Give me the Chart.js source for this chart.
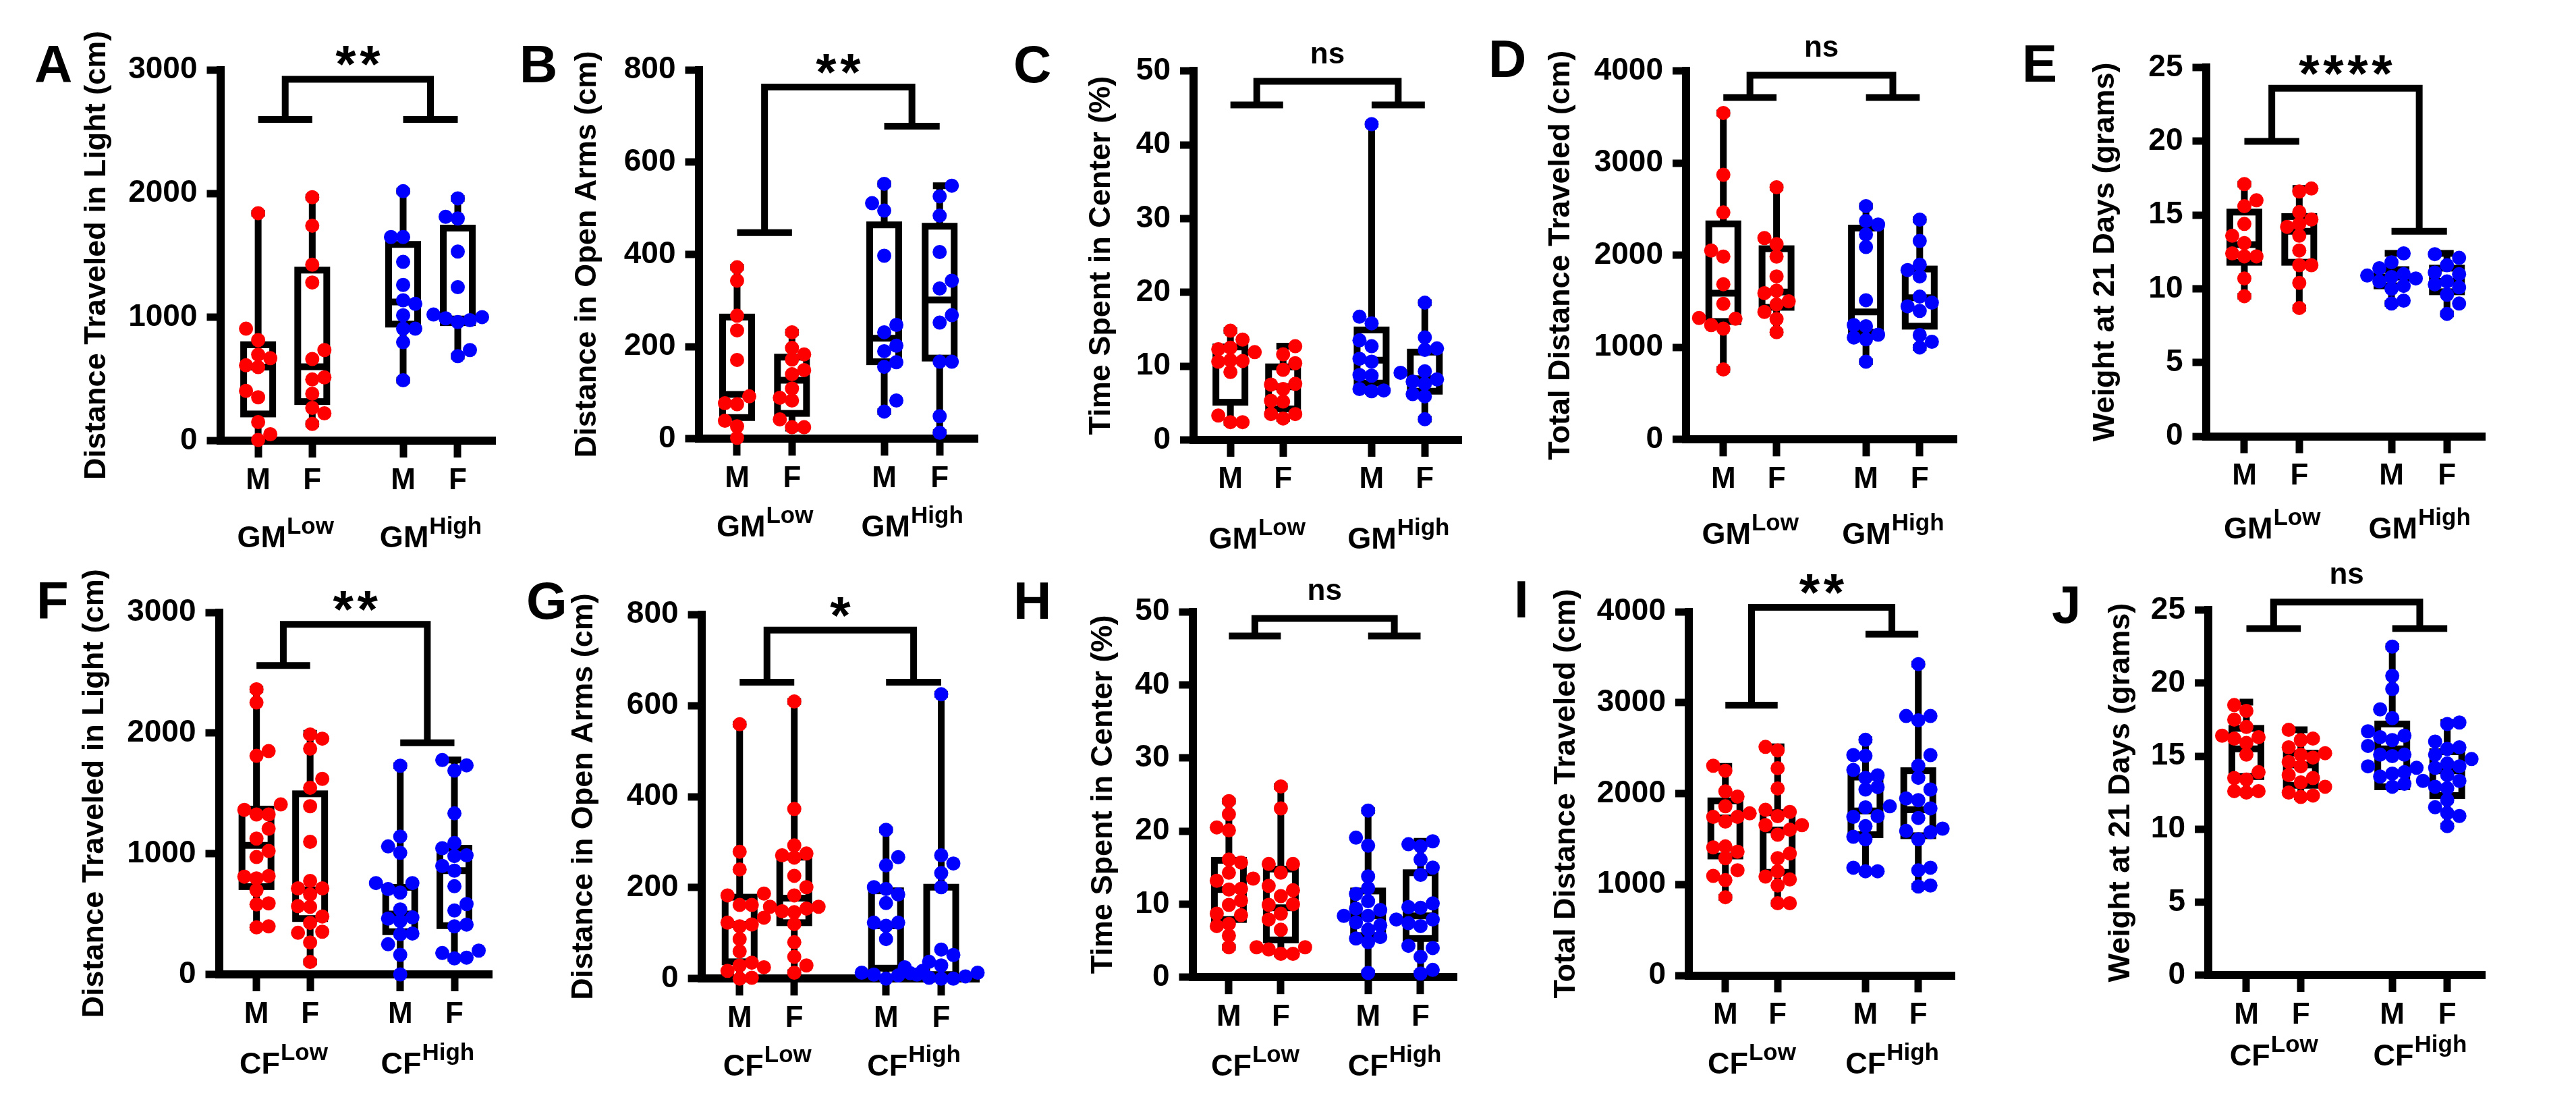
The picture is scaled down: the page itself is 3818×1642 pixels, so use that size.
<!DOCTYPE html>
<html>
<head>
<meta charset="utf-8">
<title>Behaviour and weight by group</title>
<script src="https://cdn.jsdelivr.net/npm/chart.js@4.4.1/dist/chart.umd.min.js"></script>
<style>
  html, body { margin: 0; padding: 0; background: #fff; }
  body { width: 3818px; height: 1642px; position: relative; overflow: hidden; }
  canvas { position: absolute; }
</style>
</head>
<body>
<script>
// groups are: M Low, F Low, M High, F High
const SEX = ['M', 'F', 'M', 'F'];
const LEVELS = ['Low', 'High'];
const CAT_X = [1, 2, 3.68, 4.69];

// points, one array per group
const lightGM = [
    [1841, 906, 814, 696, 667, 610, 595, 403, 351, 150, 52, 6],
    [1970, 1740, 1424, 1280, 733, 661, 512, 495, 380, 265, 221, 135],
    [2019, 1648, 1648, 1447, 1260, 1136, 1107, 1015, 906, 906, 797, 489],
    [1961, 1812, 1798, 1530, 1242, 1021, 1000, 990, 975, 960, 733, 684],
];
const openGM = [
    [372, 343, 267, 235, 171, 92, 77, 75, 39, 27, 2],
    [231, 197, 183, 172, 149, 140, 109, 89, 83, 42, 25, 25],
    [553, 511, 495, 397, 247, 231, 202, 190, 166, 156, 83, 59],
    [549, 526, 484, 405, 343, 326, 268, 252, 167, 167, 49, 13],
];
const centerGM = [
    [14.8, 13.6, 12.5, 12.3, 11.9, 10.8, 10.7, 10.6, 9.2, 3.3, 2.4, 2.4],
    [12.7, 11.6, 10.4, 9.5, 7.6, 7.5, 6.9, 5.3, 5.2, 3.5, 3.5, 2.9],
    [42.8, 16.7, 15.8, 13.5, 12.7, 11.0, 10.6, 8.8, 8.7, 6.9, 6.7, 6.6],
    [18.6, 13.9, 12.4, 12.2, 9.3, 9.1, 8.2, 7.9, 7.6, 6.2, 5.9, 2.8],
];
const totalGM = [
    [3545, 2874, 2465, 2052, 1986, 1686, 1473, 1319, 1311, 1242, 1203, 760],
    [2738, 2187, 2121, 1986, 1770, 1616, 1589, 1500, 1466, 1385, 1308, 1165],
    [2534, 2372, 2334, 2226, 2090, 1512, 1242, 1230, 1138, 1107, 1088, 845],
    [2387, 2156, 1898, 1840, 1770, 1551, 1485, 1446, 1396, 1134, 1061, 999],
];
const weightGM = [
    [17.1, 16.0, 15.6, 14.4, 13.6, 13.1, 12.4, 12.2, 12.2, 10.7, 9.5],
    [16.8, 16.6, 15.2, 14.7, 14.4, 14.2, 13.6, 12.6, 11.6, 11.6, 10.4, 8.7],
    [12.4, 11.8, 11.4, 11.0, 10.9, 10.8, 10.7, 10.5, 10.2, 10.0, 9.2, 9.0],
    [12.35, 12.1, 11.6, 11.1, 11.0, 10.5, 10.3, 10.1, 9.6, 9.0, 8.3],
];
const lightCF = [
    [2364, 2254, 1851, 1812, 1409, 1364, 1326, 1326, 1208, 1126, 1023, 973, 816, 810, 796, 698, 589, 580, 398, 390],
    [1989, 1954, 1871, 1621, 1547, 1394, 1099, 775, 713, 713, 663, 566, 560, 480, 427, 354, 345, 265, 103],
    [1730, 1143, 1061, 1008, 757, 757, 707, 678, 539, 472, 463, 442, 339, 333, 250, 162, 0],
    [1777, 1733, 1689, 1335, 1090, 1046, 987, 981, 899, 860, 731, 583, 530, 413, 398, 197, 177, 139, 133],
];
const openCF = [
    [559, 279, 240, 187, 183, 162, 162, 134, 123, 119, 115, 87, 60, 35, 29, 25, 17, 2, 0],
    [609, 373, 293, 275, 271, 266, 226, 201, 183, 158, 158, 154, 148, 146, 120, 80, 48, 29, 13],
    [327, 267, 249, 201, 197, 185, 166, 123, 123, 116, 87, 17, 13, 12, 9, 7, 0],
    [625, 271, 253, 232, 201, 64, 52, 37, 29, 25, 13, 9, 5, 2, 0, 0],
];
const centerCF = [
    [24.1, 22.3, 20.5, 20.1, 16.1, 15.7, 14.3, 13.5, 13.2, 12.1, 12.0, 10.5, 9.9, 8.7, 8.5, 7.3, 7.0, 5.7, 4.1],
    [26.1, 23.1, 15.5, 15.5, 14.3, 12.5, 11.9, 11.1, 10.0, 9.9, 8.7, 7.9, 6.5, 4.1, 4.1, 3.8, 3.2, 3.2],
    [22.8, 19.1, 18.0, 13.8, 12.2, 11.4, 10.4, 9.4, 9.2, 8.4, 8.4, 7.5, 7.1, 6.5, 5.5, 5.3, 4.8, 0.6],
    [18.6, 18.2, 17.9, 16.1, 15.0, 14.0, 10.1, 9.6, 9.5, 7.9, 7.9, 7.4, 7.0, 4.3, 4.0, 2.8, 1.0, 0.5],
];
const totalCF = [
    [2307, 2252, 2025, 1967, 1861, 1783, 1744, 1744, 1693, 1419, 1408, 1361, 1290, 1157, 1095, 1048, 860],
    [2514, 2475, 2280, 2057, 1822, 1799, 1752, 1654, 1654, 1603, 1548, 1341, 1290, 1146, 1087, 1056, 989, 794, 794],
    [2592, 2424, 2416, 2260, 2201, 2174, 2072, 2045, 1861, 1849, 1752, 1744, 1642, 1525, 1498, 1185, 1146, 1146],
    [3425, 2854, 2854, 2807, 2424, 2307, 2174, 2045, 1947, 1928, 1838, 1732, 1615, 1590, 1576, 1498, 1185, 1157, 989, 978],
];
const weightCF = [
    [18.5, 18.1, 17.5, 17.0, 16.4, 16.3, 16.2, 15.9, 15.1, 13.9, 13.5, 13.4, 12.6, 12.6, 12.5],
    [16.8, 16.2, 16.1, 15.6, 15.2, 15.1, 14.9, 14.6, 14.3, 13.7, 13.5, 13.2, 12.9, 12.5, 12.3, 12.2],
    [22.5, 20.5, 19.6, 18.2, 17.6, 16.7, 16.4, 16.3, 16.1, 15.7, 15.1, 15.1, 15.0, 14.3, 14.2, 13.9, 13.8, 13.6, 13.1, 12.9],
    [17.3, 17.2, 16.0, 15.6, 15.5, 15.1, 14.8, 14.5, 14.3, 14.2, 13.7, 13.3, 13.3, 12.9, 12.8, 12.0, 11.5, 11.1, 10.9, 10.2],
];

// box stats per group: min, q1, median, q3, max
const lightGMBox = [[6, 216, 595, 776, 1841], [135, 316, 598, 1380, 1970], [489, 943, 1122, 1588, 2019], [684, 955, 985, 1720, 1961]];
const openGMBox = [[2, 46, 96, 264, 372], [23, 55, 127, 177, 231], [59, 167, 218, 464, 553], [13, 175, 301, 461, 549]];
const centerGMBox = [[2.4, 5.1, 10.7, 12.6, 14.8], [2.9, 4.2, 7.2, 9.9, 12.7], [6.6, 7.7, 10.8, 14.9, 42.8], [2.8, 6.6, 8.3, 11.9, 18.6]];
const totalGMBox = [[760, 1281, 1589, 2341, 3545], [1165, 1435, 1601, 2071, 2738], [845, 1165, 1385, 2295, 2534], [999, 1230, 1539, 1851, 2387]];
const weightGMBox = [[9.5, 11.8, 13.0, 15.2, 17.1], [8.7, 11.8, 13.9, 14.9, 16.8], [9.0, 10.2, 10.8, 11.3, 12.4], [8.3, 9.8, 10.5, 11.4, 12.4]];
const lightCFBox = [[390, 728, 1070, 1370, 2364], [103, 463, 700, 1497, 1998], [0, 354, 501, 722, 1730], [133, 404, 860, 1046, 1777]];
const openCFBox = [[0, 37, 119, 179, 559], [13, 123, 177, 267, 609], [0, 23, 116, 193, 327], [0, 5, 9, 201, 625]];
const centerCFBox = [[4.1, 7.9, 12.0, 16.0, 24.1], [3.2, 5.1, 9.5, 14.8, 26.1], [0.6, 5.7, 8.4, 11.8, 22.8], [0.5, 5.3, 8.4, 14.3, 18.6]];
const totalCFBox = [[860, 1314, 1732, 1920, 2299], [794, 1134, 1600, 1791, 2514], [1146, 1548, 1810, 2182, 2592], [978, 1537, 1822, 2252, 3425]];
const weightCFBox = [[12.5, 13.6, 15.5, 16.9, 18.7], [12.2, 13.0, 14.4, 15.2, 16.8], [12.9, 12.9, 15.5, 17.2, 22.5], [10.2, 12.3, 14.0, 15.3, 17.3]];

// significance brackets: low leg, high leg, top
const lightGMSig = [2600, 2600, 2925];
const openGMSig = [447, 678, 763];
const centerGMSig = [45.4, 45.4, 48.6];
const totalGMSig = [3713, 3713, 3955];
const weightGMSig = [20.0, 13.9, 23.6];
const lightCFSig = [2561, 1920, 2902];
const openCFSig = [651.6, 651.6, 766];
const centerCFSig = [46.7, 46.7, 49.1];
const totalCFSig = [2973, 3755, 4049];
const weightCFSig = [23.74, 23.74, 25.55];

const panels = [
    { id: 'A', title: 'Distance Traveled in Light (cm)', max: 3000, step: 1000, pts: lightGM, box: lightGMBox, sig: lightGMSig, mark: '**', prefix: 'GM' },
    { id: 'B', title: 'Distance in Open Arms (cm)', max: 800, step: 200, pts: openGM, box: openGMBox, sig: openGMSig, mark: '**', prefix: 'GM' },
    { id: 'C', title: 'Time Spent in Center (%)', max: 50, step: 10, pts: centerGM, box: centerGMBox, sig: centerGMSig, mark: 'ns', prefix: 'GM' },
    { id: 'D', title: 'Total Distance Traveled (cm)', max: 4000, step: 1000, pts: totalGM, box: totalGMBox, sig: totalGMSig, mark: 'ns', prefix: 'GM' },
    { id: 'E', title: 'Weight at 21 Days (grams)', max: 25, step: 5, pts: weightGM, box: weightGMBox, sig: weightGMSig, mark: '****', prefix: 'GM' },
    { id: 'F', title: 'Distance Traveled in Light (cm)', max: 3000, step: 1000, pts: lightCF, box: lightCFBox, sig: lightCFSig, mark: '**', prefix: 'CF' },
    { id: 'G', title: 'Distance in Open Arms (cm)', max: 800, step: 200, pts: openCF, box: openCFBox, sig: openCFSig, mark: '*', prefix: 'CF' },
    { id: 'H', title: 'Time Spent in Center (%)', max: 50, step: 10, pts: centerCF, box: centerCFBox, sig: centerCFSig, mark: 'ns', prefix: 'CF' },
    { id: 'I', title: 'Total Distance Traveled (cm)', max: 4000, step: 1000, pts: totalCF, box: totalCFBox, sig: totalCFSig, mark: '**', prefix: 'CF' },
    { id: 'J', title: 'Weight at 21 Days (grams)', max: 25, step: 5, pts: weightCF, box: weightCFBox, sig: weightCFSig, mark: 'ns', prefix: 'CF' },
];

// page placement of each panel (page pixels)
const GEOM = {
    A: { left: 40, top: 0, width: 720, height: 820, axisX: 326.5, yTop: 103.7, y0: 653, xEnd: 735, titleX: 144, letter: [51, 121.8], groupY: 811 },
    B: { left: 760, top: 0, width: 740, height: 820, axisX: 1035.5, yTop: 103.7, y0: 650.2, xEnd: 1450, titleX: 871, letter: [770, 121.8], groupY: 795 },
    C: { left: 1500, top: 0, width: 700, height: 820, axisX: 1769, yTop: 105.3, y0: 651.9, xEnd: 2167, titleX: 1633, letter: [1502, 121.8], groupY: 813 },
    D: { left: 2200, top: 0, width: 790, height: 820, axisX: 2499, yTop: 105.3, y0: 651.3, xEnd: 2901, titleX: 2314, letter: [2206, 113.5], groupY: 806 },
    E: { left: 2990, top: 0, width: 828, height: 820, axisX: 3269.5, yTop: 100.1, y0: 646.6, xEnd: 3684, titleX: 3121, letter: [2997, 120.8], groupY: 798 },
    F: { left: 40, top: 820, width: 720, height: 822, axisX: 324.5, yTop: 907.7, y0: 1444, xEnd: 729.6, titleX: 141, letter: [54, 917], groupY: 1591 },
    G: { left: 760, top: 820, width: 735, height: 822, axisX: 1039.6, yTop: 910.8, y0: 1450.3, xEnd: 1452, titleX: 866, letter: [780, 917], groupY: 1594 },
    H: { left: 1495, top: 820, width: 740, height: 822, axisX: 1767.5, yTop: 906.7, y0: 1448.2, xEnd: 2160, titleX: 1636, letter: [1502, 917], groupY: 1594 },
    I: { left: 2235, top: 820, width: 795, height: 822, axisX: 2503, yTop: 906.7, y0: 1445.5, xEnd: 2898, titleX: 2322, letter: [2244, 915], groupY: 1591 },
    J: { left: 3030, top: 820, width: 788, height: 822, axisX: 3273, yTop: 904.2, y0: 1445, xEnd: 3684, titleX: 3144, letter: [3041, 923], groupY: 1579 },
};

const FONT = '"Liberation Sans", Arial, sans-serif';
const COLORS = ['#ff0000', '#ff0000', '#0000ff', '#0000ff'];
const X_MIN = 0.3, X_MAX = 5.32;
const AXIS_W = 12, LINE_W = 10, DOT_R = 10.5, BOX_HALF = 21.5, CAP_HALF = 10;
const TITLE_SIZE = 45;

Chart.defaults.font.family = FONT;
Chart.defaults.font.weight = 'bold';
Chart.defaults.color = '#000';

// simple beeswarm so dots with close values sit side by side
function swarm(vals, cx, pxX, pxY) {
    const placed = [];
    return vals.slice().sort((a, b) => a - b).map((v, n) => {
        const py = v * pxY;
        for (let k = 0; k < 12; k++) {
            const sides = k === 0 ? [0] : (n % 2 ? [k, -k] : [-k, k]);
            for (const s of sides) {
                const px = s * 18;
                if (placed.every(q => Math.hypot(q[0] - px, q[1] - py) >= 17)) {
                    placed.push([px, py]);
                    return { x: cx + px / pxX, y: v };
                }
            }
        }
        return { x: cx, y: v };
    });
}

function makeDecor(p, g) {
    return {
        id: 'decor' + p.id,
        beforeDatasetsDraw(chart) {
            const { ctx } = chart;
            const x = chart.scales.x, y = chart.scales.y;
            ctx.save();
            ctx.strokeStyle = '#000';
            ctx.lineWidth = LINE_W;
            ctx.lineCap = 'butt';
            ctx.lineJoin = 'miter';
            p.box.forEach((b, i) => {
                const cx = x.getPixelForValue(CAT_X[i]);
                const [mn, q1, md, q3, mx] = b.map(v => y.getPixelForValue(v));
                ctx.beginPath();
                ctx.moveTo(cx, mx); ctx.lineTo(cx, q3);
                ctx.moveTo(cx, q1); ctx.lineTo(cx, mn);
                ctx.moveTo(cx - CAP_HALF, mx); ctx.lineTo(cx + CAP_HALF, mx);
                ctx.moveTo(cx - CAP_HALF, mn); ctx.lineTo(cx + CAP_HALF, mn);
                ctx.moveTo(cx - BOX_HALF, md); ctx.lineTo(cx + BOX_HALF, md);
                ctx.stroke();
                ctx.strokeRect(cx - BOX_HALF, q3, BOX_HALF * 2, q1 - q3);
            });

            const xs = CAT_X.map(v => x.getPixelForValue(v));
            const [lo, hi, top] = p.sig.map(v => y.getPixelForValue(v));
            const gl = (xs[0] + xs[1]) / 2, gr = (xs[2] + xs[3]) / 2;
            ctx.beginPath();
            ctx.moveTo(xs[0], lo); ctx.lineTo(xs[1], lo);
            ctx.moveTo(xs[2], hi); ctx.lineTo(xs[3], hi);
            ctx.moveTo(gl, lo); ctx.lineTo(gl, top); ctx.lineTo(gr, top); ctx.lineTo(gr, hi);
            ctx.stroke();
            ctx.restore();
        },
        afterDraw(chart) {
            const { ctx } = chart;
            const x = chart.scales.x, y = chart.scales.y;
            const xs = CAT_X.map(v => x.getPixelForValue(v));
            ctx.save();
            ctx.fillStyle = '#000';
            ctx.textBaseline = 'alphabetic';

            ctx.textAlign = 'left';
            ctx.font = `bold 78px ${FONT}`;
            ctx.fillText(p.id, g.letter[0] - g.left, g.letter[1] - g.top);

            const gy = g.groupY - g.top;
            [(xs[0] + xs[1]) / 2, (xs[2] + xs[3]) / 2].forEach((cx, k) => {
                ctx.font = `bold 45px ${FONT}`;
                const w1 = ctx.measureText(p.prefix).width;
                ctx.font = `bold 35px ${FONT}`;
                const w2 = ctx.measureText(LEVELS[k]).width;
                const x0 = cx - (w1 + w2) / 2;
                ctx.font = `bold 45px ${FONT}`;
                ctx.fillText(p.prefix, x0, gy);
                ctx.font = `bold 35px ${FONT}`;
                ctx.fillText(LEVELS[k], x0 + w1 + 1, gy - 20);
            });

            const mid = ((xs[0] + xs[1]) / 2 + (xs[2] + xs[3]) / 2) / 2;
            const top = y.getPixelForValue(p.sig[2]);
            ctx.textAlign = 'center';
            if (p.mark === 'ns') {
                ctx.font = `bold 44px ${FONT}`;
                ctx.fillText('ns', mid, top - 27);
            } else {
                ctx.font = `bold 78px ${FONT}`;
                const m = ctx.measureText('*');
                const base = top - 34 + (m.actualBoundingBoxAscent - m.actualBoundingBoxDescent) / 2;
                const n = p.mark.length;
                for (let k = 0; k < n; k++) {
                    ctx.fillText('*', mid + (k - (n - 1) / 2) * 36, base);
                }
            }
            ctx.restore();
        },
    };
}

function buildPanel(p) {
    const g = GEOM[p.id];
    const canvas = document.createElement('canvas');
    canvas.width = g.width;
    canvas.height = g.height;
    Object.assign(canvas.style, { left: g.left + 'px', top: g.top + 'px', width: g.width + 'px', height: g.height + 'px' });
    document.body.appendChild(canvas);

    const padL = g.titleX - TITLE_SIZE / 2 - g.left;
    const areaRight = g.xEnd - AXIS_W / 2;
    const pxX = (areaRight - g.axisX) / (X_MAX - X_MIN);
    const pxY = (g.y0 - g.yTop) / p.max;

    const datasets = p.pts.map((vals, i) => ({
        data: swarm(vals, CAT_X[i], pxX, pxY),
        backgroundColor: COLORS[i],
        borderWidth: 0,
        pointRadius: DOT_R,
        pointHoverRadius: DOT_R,
        clip: false,
    }));

    new Chart(canvas, {
        type: 'scatter',
        data: { datasets },
        options: {
            responsive: false,
            animation: false,
            devicePixelRatio: 1,
            events: [],
            layout: {
                autoPadding: false,
                padding: { left: padL, top: g.yTop - g.top, right: g.left + g.width - areaRight, bottom: 0 },
            },
            plugins: { legend: { display: false }, tooltip: { enabled: false } },
            scales: {
                x: {
                    type: 'linear',
                    min: X_MIN,
                    max: X_MAX,
                    afterBuildTicks: s => { s.ticks = CAT_X.map(v => ({ value: v })); },
                    afterFit: s => { s.height = g.top + g.height - g.y0; },
                    ticks: { callback: (v, i) => SEX[i], font: { size: 44, weight: 'bold' }, padding: 8, color: '#000', maxRotation: 0, autoSkip: false },
                    grid: { drawOnChartArea: false, tickLength: 25, tickWidth: 11, tickColor: '#000', lineWidth: AXIS_W },
                    border: { width: AXIS_W, color: '#000' },
                },
                y: {
                    type: 'linear',
                    min: 0,
                    max: p.max,
                    afterFit: s => { s.width = g.axisX - g.left - padL; },
                    ticks: { stepSize: p.step, callback: v => String(v), font: { size: 46, weight: 'bold' }, padding: 14, color: '#000' },
                    grid: { drawOnChartArea: false, tickLength: 20, tickWidth: 11, tickColor: '#000', lineWidth: AXIS_W },
                    border: { width: AXIS_W, color: '#000' },
                    title: { display: true, text: p.title, color: '#000', padding: 0, font: { size: TITLE_SIZE, weight: 'bold', lineHeight: 1 } },
                },
            },
        },
        plugins: [makeDecor(p, g)],
    });
}

panels.forEach(buildPanel);
</script>
</body>
</html>
